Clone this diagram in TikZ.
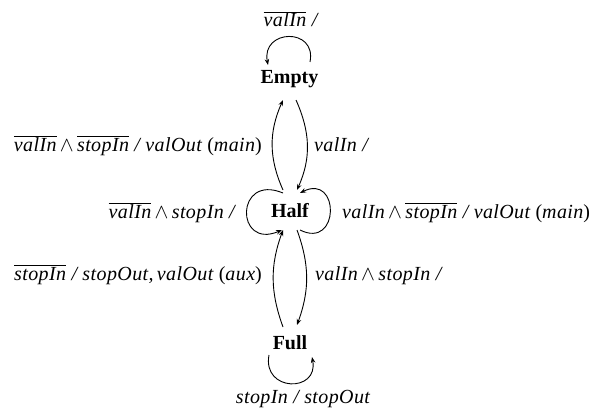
\documentclass[tikz,border=0pt]{standalone}
\usepackage{fontspec}
\setmainfont{Liberation Serif}
\newfontfamily\labfont[LetterSpace=2]{Liberation Serif}
\usetikzlibrary{arrows.meta}
\newcommand\ov[1]{$\overline{\mbox{#1}}$}
\newcommand\aand{\,$\wedge$\,}
\begin{document}
\begin{tikzpicture}[x=1pt,y=1pt,
  st/.style={inner sep=0pt,font=\bfseries\fontsize{20}{24}\selectfont},
  lab/.style={inner sep=0pt,font=\labfont\itshape\fontsize{20}{24}\selectfont},
  edge/.style={line width=0.9pt,-{Stealth[length=6pt,width=4.5pt]}}]
\useasboundingbox (0,0) rectangle (591,-417);
\node[st,anchor=base] (empty) at (289.5,-84) {Empty};
\node[st,anchor=base] (half) at (290,-217) {Half};
\node[st,anchor=base] (full) at (290,-349) {Full};
% edges between states
\draw[edge] ([xshift=-7pt,yshift=27pt]half.base) to[out=114,in=246] ([xshift=-6.5pt,yshift=-16pt]empty.base);
\draw[edge] ([xshift=6.5pt,yshift=-16pt]empty.base) to[out=-66,in=66] ([xshift=7pt,yshift=27pt]half.base);
\draw[edge] ([xshift=-7pt,yshift=22pt]full.base) to[out=110,in=250] ([xshift=-7pt,yshift=-13pt]half.base);
\draw[edge] ([xshift=7pt,yshift=-13pt]half.base) to[out=-70,in=70] ([xshift=7pt,yshift=24pt]full.base);
% self loops
\draw[edge] ([xshift=20.5pt,yshift=22pt]empty.base) .. controls +(7,35) and +(-7,36) .. ([xshift=-21.5pt,yshift=19pt]empty.base);
\draw[edge] ([xshift=-21pt,yshift=-6pt]full.base) .. controls +(-7,-37) and +(7,-36) .. ([xshift=22pt,yshift=-8pt]full.base);
\draw[edge] ([xshift=-7pt,yshift=24pt]half.base) .. controls +(-48,20) and +(-47,-20) .. ([xshift=-8pt,yshift=-13pt]half.base);
\draw[edge] ([xshift=10pt,yshift=-13pt]half.base) .. controls +(40,-20) and +(40,20) .. ([xshift=10pt,yshift=24pt]half.base);
% labels
\node[lab,anchor=base] (lt) at (290.5,-27) {\ov{valIn} /};
\node[lab,anchor=base east] (l1) at (262,-151) {\ov{valIn}\aand\ov{stopIn} / valOut {\upshape(}main{\upshape)}};
\node[lab,anchor=base west] (r1) at (314,-151) {valIn /};
\node[lab,anchor=base east] (hl) at (235,-218) {\ov{valIn}\aand stopIn /};
\node[lab,anchor=base west] (hr) at (342,-218) {valIn\aand\ov{stopIn} / valOut {\upshape(}main{\upshape)}};
\node[lab,anchor=base east] (l3) at (262,-280) {\ov{stopIn} / stopOut,\,valOut {\upshape(}aux{\upshape)}};
\node[lab,anchor=base west] (r3) at (315,-280) {valIn\aand stopIn /};
\node[lab,anchor=base] (bot) at (303,-403) {stopIn / stopOut};
\end{tikzpicture}
\end{document}
